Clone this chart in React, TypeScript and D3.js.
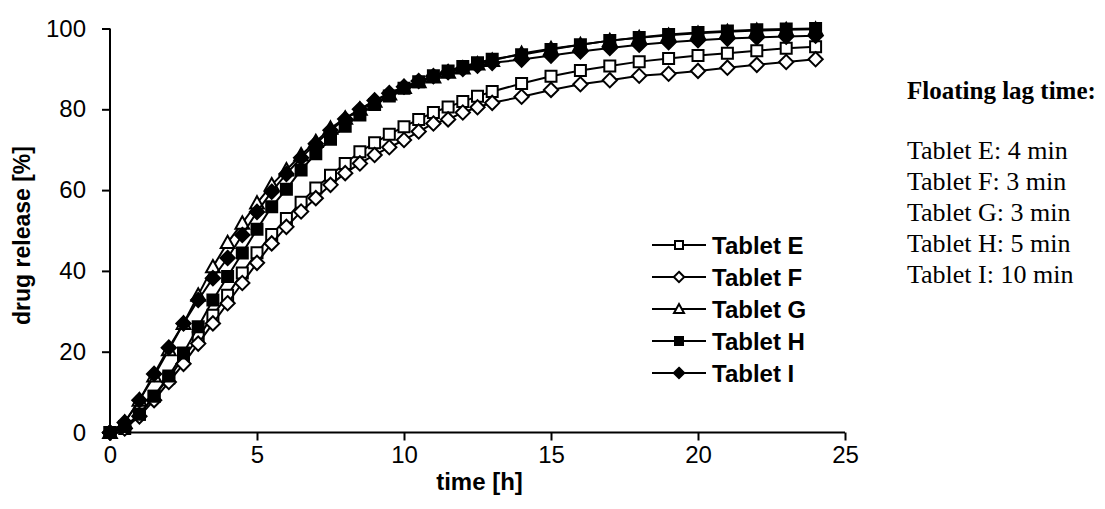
import React, { useRef, useEffect } from 'react';
import * as d3 from 'd3';

// sampling times [h]
const times = [
  0, 0.5, 1, 1.5, 2, 2.5, 3, 3.5, 4, 4.5, 5, 5.5, 6, 6.5, 7, 7.5, 8, 8.5, 9, 9.5,
  10, 10.5, 11, 11.5, 12, 12.5, 13, 14, 15, 16, 17, 18, 19, 20, 21, 22, 23, 24,
];

const tabletE = [
  0, 1, 4.5, 9, 13.5, 18.5, 23.5, 29, 34, 39.5, 44.5, 49, 53, 57, 60.5, 63.7, 66.6, 69.5, 71.7, 73.8,
  75.7, 77.5, 79.2, 80.6, 81.9, 83.2, 84.4, 86.4, 88.2, 89.6, 90.7, 91.8, 92.6, 93.3, 93.9, 94.5, 95.1, 95.5,
];
const tabletF = [
  0, 1, 4, 8, 12.5, 17, 22, 27, 32, 37, 42, 46.8, 50.9, 54.7, 58, 61.3, 64.2, 66.6, 68.7, 70.6,
  72.4, 74.5, 76.5, 77.5, 79.2, 80.5, 81.6, 83.1, 84.8, 86.2, 87.2, 88.3, 88.8, 89.5, 90.3, 91, 91.7, 92.4,
];
const tabletG = [
  0, 2.5, 8, 14, 20.5, 27, 34, 41, 47, 51.8, 56.8, 61.3, 65, 68.7, 72, 75.3, 77.8, 80, 82, 83.8,
  85.4, 86.8, 88, 89.2, 90.2, 91.2, 92.1, 93.8, 95, 96, 97, 97.7, 98.3, 98.8, 99.2, 99.5, 99.7, 99.8,
];
const tabletH = [
  0, 1.5, 4.5, 9, 14, 19.7, 26.2, 32.8, 38.6, 44.4, 50.3, 55.9, 60.2, 65, 69, 72.6, 75.8, 78.6, 81.2, 83.3,
  85.2, 86.8, 88.3, 89.5, 90.6, 91.5, 92.4, 93.5, 94.8, 96, 97, 97.8, 98.5, 99, 99.4, 99.7, 99.9, 100,
];
const tabletI = [
  0, 2.5, 8, 14.5, 21, 27, 32.8, 38.2, 43.2, 48.9, 54.6, 59.6, 64, 68, 71.5, 74.8, 77.6, 80, 82.2, 84,
  85.6, 87, 88.2, 89.2, 90, 90.8, 91.5, 92.3, 93.3, 94.3, 95.2, 96, 96.6, 97.1, 97.5, 97.8, 98, 98.2,
];

const seriesNames = ['Tablet E', 'Tablet F', 'Tablet G', 'Tablet H', 'Tablet I'];
const seriesValues = [tabletE, tabletF, tabletG, tabletH, tabletI];
const markerKinds = ['square', 'diamond', 'triangle', 'square', 'diamond'];
const markerFills = ['white', 'white', 'white', 'black', 'black'];

const lagTitle = 'Floating lag time:';
const lagLines = ['Tablet E: 4 min', 'Tablet F: 3 min', 'Tablet G: 3 min', 'Tablet H: 5 min', 'Tablet I: 10 min'];

const xTicks = [0, 5, 10, 15, 20, 25];
const yTicks = [0, 20, 40, 60, 80, 100];

const W = 1105;
const H = 509;
const plot = { left: 110, right: 845, top: 28.5, bottom: 432.5 };

function markerPath(kind: string, size: number) {
  const h = size / 2;
  if (kind === 'square') return `M${-h},${-h}H${h}V${h}H${-h}Z`;
  if (kind === 'diamond') {
    const d = h * 1.3;
    return `M0,${-d}L${d},0L0,${d}L${-d},0Z`;
  }
  const t = h * 1.25;
  return `M0,${-t}L${t},${t * 0.8}L${-t},${t * 0.8}Z`;
}

export default function App() {
  const svgRef = useRef<SVGSVGElement>(null);

  useEffect(() => {
    const svg = d3.select(svgRef.current);
    svg.selectAll('*').remove();

    const x = d3.scaleLinear().domain([0, 25]).range([plot.left, plot.right]);
    const y = d3.scaleLinear().domain([0, 100]).range([plot.bottom, plot.top]);

    const font = 'Liberation Sans, Arial, sans-serif';
    const serif = 'Liberation Serif, Times New Roman, serif';

    // axes
    const xAxis = svg.append('g')
      .attr('transform', `translate(0,${plot.bottom})`)
      .call(d3.axisBottom(x).tickValues(xTicks).tickSize(8).tickPadding(5).tickFormat(d3.format('d')));
    const yAxis = svg.append('g')
      .attr('transform', `translate(${plot.left},0)`)
      .call(d3.axisLeft(y).tickValues(yTicks).tickSize(8).tickPadding(16).tickFormat(d3.format('d')));

    [xAxis, yAxis].forEach(ax => {
      ax.select('.domain').attr('stroke', 'black').attr('stroke-width', 2);
      ax.selectAll('.tick line').attr('stroke', 'black').attr('stroke-width', 2);
      ax.selectAll('.tick text')
        .attr('fill', 'black')
        .style('font-family', font)
        .style('font-size', '24px');
    });
    // no outer tick stubs at the domain ends
    xAxis.select('.domain').attr('d', `M${plot.left},0H${plot.right}`);
    yAxis.select('.domain').attr('d', `M0,${plot.bottom}V${plot.top}`);

    // axis titles
    svg.append('text')
      .attr('x', (plot.left + plot.right) / 2 + 2)
      .attr('y', 490)
      .attr('text-anchor', 'middle')
      .style('font-family', font)
      .style('font-size', '24px')
      .style('font-weight', 'bold')
      .text('time [h]');

    svg.append('text')
      .attr('transform', `translate(30,${(plot.top + plot.bottom) / 2 + 5}) rotate(-90)`)
      .attr('text-anchor', 'middle')
      .style('font-family', font)
      .style('font-size', '23px')
      .style('font-weight', 'bold')
      .text('drug release [%]');

    // series
    const line = d3.line<number>()
      .x((d, i) => x(times[i]))
      .y(d => y(d));

    seriesValues.forEach((vals, s) => {
      const g = svg.append('g');
      g.append('path')
        .attr('d', line(vals))
        .attr('fill', 'none')
        .attr('stroke', 'black')
        .attr('stroke-width', 2);
      g.selectAll('path.m')
        .data(vals)
        .enter()
        .append('path')
        .attr('class', 'm')
        .attr('transform', (d, i) => `translate(${x(times[i])},${y(d)})`)
        .attr('d', markerPath(markerKinds[s], 11))
        .attr('fill', markerFills[s])
        .attr('stroke', 'black')
        .attr('stroke-width', 2);
    });

    // legend
    const legend = svg.append('g').attr('transform', 'translate(652,245)');
    seriesNames.forEach((name, s) => {
      const row = legend.append('g').attr('transform', `translate(0,${s * 32})`);
      row.append('line')
        .attr('x1', 0).attr('x2', 54)
        .attr('stroke', 'black').attr('stroke-width', 2);
      row.append('path')
        .attr('transform', 'translate(27,0)')
        .attr('d', markerPath(markerKinds[s], 8))
        .attr('fill', markerFills[s])
        .attr('stroke', 'black')
        .attr('stroke-width', 2);
      row.append('text')
        .attr('x', 60)
        .attr('dy', '0.36em')
        .style('font-family', font)
        .style('font-size', '24px')
        .style('font-weight', 'bold')
        .text(name);
    });

    // floating lag time note
    const note = svg.append('g').attr('transform', 'translate(907,0)');
    note.append('text')
      .attr('y', 99)
      .style('font-family', serif)
      .style('font-size', '25px')
      .style('font-weight', 'bold')
      .text(lagTitle);
    lagLines.forEach((t, i) => {
      note.append('text')
        .attr('y', 159 + i * 31)
        .style('font-family', serif)
        .style('font-size', '26px')
        .text(t);
    });
  }, []);

  return (
    <svg
      ref={svgRef}
      width={W}
      height={H}
      style={{ position: 'absolute', left: 0, top: 0, background: 'white' }}
    />
  );
}
